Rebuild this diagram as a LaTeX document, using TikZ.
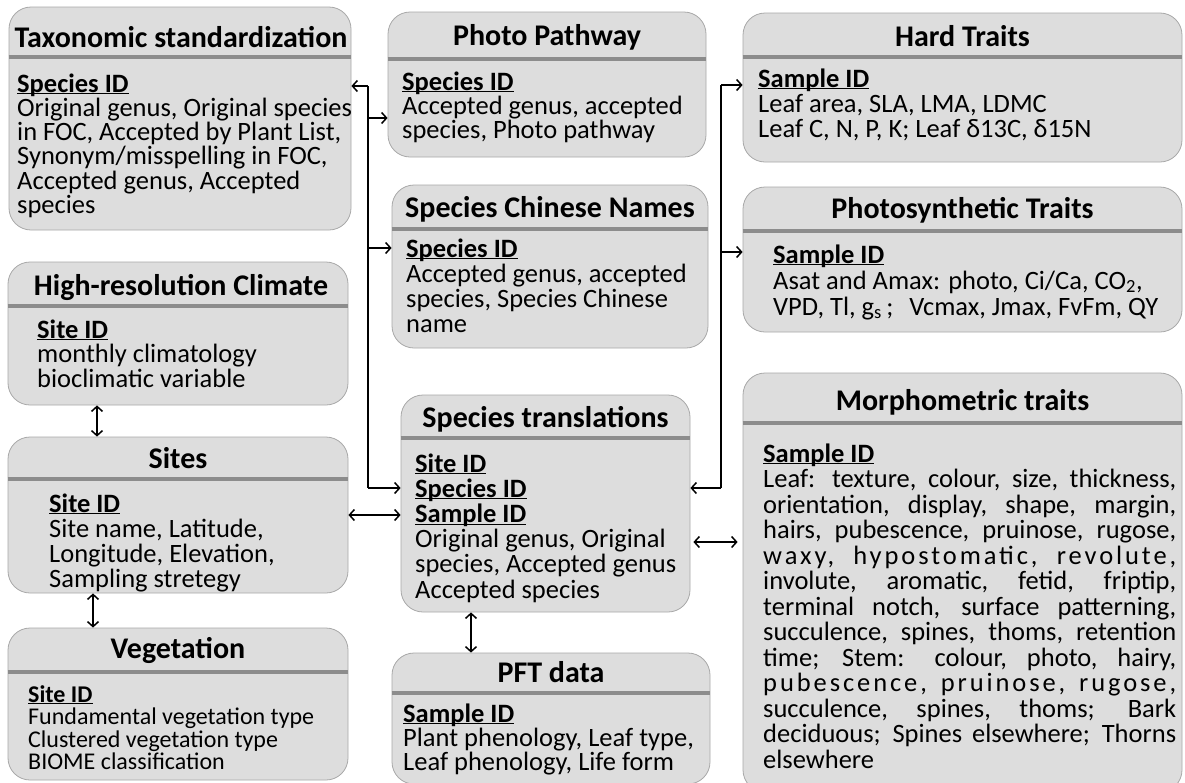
\documentclass[tikz,border=0pt]{standalone}
\usepackage{fontspec}
\setmainfont{Carlito}
\usetikzlibrary{arrows.meta}

\definecolor{boxfill}{RGB}{221,221,221}
\definecolor{boxedge}{RGB}{168,168,168}
\definecolor{sepgray}{RGB}{140,140,140}

% key field of a table, underlined
\newcommand{\keyid}[1]{\underline{\smash{\textbf{#1}}}}
% list of fields: [font size]{line spacing}{lines}
\newcommand{\fields}[3][26.5]{\parbox[t]{430pt}{\fontsize{#1}{#2}\selectfont\lineskiplimit=-50pt\relax #3}}
% spread line of the morphometric list
\newcommand{\spreadline}[1]{{\addfontfeature{LetterSpace=11}\makebox[413pt][s]{#1}}}

\begin{document}
\begin{tikzpicture}[x=1pt, y=-1pt,
    tablebox/.style={draw=boxedge, fill=boxfill, rounded corners=22pt, line width=0.8pt, inner sep=0pt},
    divider/.style={sepgray, line width=4pt},
    title/.style={anchor=base, inner sep=0pt, font=\fontsize{30}{30}\selectfont\bfseries},
    body/.style={anchor=base west, inner sep=0pt},
    link/.style={-{Straight Barb[length=5pt,width=11pt]}, line width=1.5pt},
    twoway/.style={{Straight Barb[length=5pt,width=11pt]}-{Straight Barb[length=5pt,width=11pt]}, line width=1.5pt}]
    \useasboundingbox (0,0) rectangle (1185,782);

    % tables
    \node[tablebox, minimum width=342, minimum height=223] (tax) at (180,118.5) {};
    \node[tablebox, minimum width=318, minimum height=145] (photo) at (547,84.5) {};
    \node[tablebox, minimum width=316, minimum height=163] (chin) at (550,266.5) {};
    \node[tablebox, minimum width=439, minimum height=149] (hard) at (962.5,87.5) {};
    \node[tablebox, minimum width=439, minimum height=145] (psyn) at (962.5,259.5) {};
    \node[tablebox, minimum width=340, minimum height=143] (clim) at (178,333.5) {};
    \node[tablebox, minimum width=340, minimum height=156] (sites) at (178,515) {};
    \node[tablebox, minimum width=340, minimum height=152] (veg) at (178,704) {};
    \node[tablebox, minimum width=289, minimum height=217] (trans) at (545.5,503.5) {};
    \node[tablebox, minimum width=318, minimum height=131] (pft) at (551,718.5) {};
    \node[tablebox, minimum width=439, minimum height=419] (morph) at (962.5,582.5) {};

    \draw[divider] (tax.west |- 0,57) -- (tax.east |- 0,57);
    \draw[divider] (photo.west |- 0,59) -- (photo.east |- 0,59);
    \draw[divider] (chin.west |- 0,229) -- (chin.east |- 0,229);
    \draw[divider] (hard.west |- 0,57) -- (hard.east |- 0,57);
    \draw[divider] (psyn.west |- 0,231) -- (psyn.east |- 0,231);
    \draw[divider] (clim.west |- 0,306) -- (clim.east |- 0,306);
    \draw[divider] (sites.west |- 0,479) -- (sites.east |- 0,479);
    \draw[divider] (veg.west |- 0,672) -- (veg.east |- 0,672);
    \draw[divider] (trans.west |- 0,438) -- (trans.east |- 0,438);
    \draw[divider] (pft.west |- 0,693) -- (pft.east |- 0,693);
    \draw[divider] (morph.west |- 0,423) -- (morph.east |- 0,423);

    \node[title] (taxT) at (181,47) {Taxonomic standardization};
    \node[title] (photoT) at (547,45) {Photo Pathway};
    \node[title] (chinT) at (550,217) {Species Chinese Names};
    \node[title] (hardT) at (962.5,46) {Hard Traits};
    \node[title] (psynT) at (962.5,218) {Photosynthetic Traits};
    \node[title] (climT) at (181,295) {High-resolution Climate};
    \node[title] (sitesT) at (178,468) {Sites};
    \node[title] (vegT) at (178,658) {Vegetation};
    \node[title] (transT) at (545.5,427) {Species translations};
    \node[title] (pftT) at (551,682) {PFT data};
    \node[title] (morphT) at (962.5,410) {Morphometric traits};

    \node[body] (taxB) at (17,92) {\fields{24.3}{\keyid{Species ID}\\ Original genus, Original species\\ in FOC, Accepted by Plant List,\\ Synonym/misspelling in FOC,\\ Accepted genus, Accepted\\ species}};
    \node[body] (photoB) at (402,90) {\fields{24}{\keyid{Species ID}\\ Accepted genus, accepted\\ species, Photo pathway}};
    \node[body] (chinB) at (406,257) {\fields{25.3}{\keyid{Species ID}\\ Accepted genus, accepted\\ species, Species Chinese\\ name}};
    \node[body] (hardB) at (758,87) {\fields{25}{\keyid{Sample ID}\\ Leaf area, SLA, LMA, LDMC\\ Leaf C, N, P, K; Leaf δ13C, δ15N}};
    \node[body] (psynB) at (773,263) {\fields{26}{\keyid{Sample ID}\\ Asat and Amax: photo, Ci/Ca, CO\textsubscript{2},\\ VPD, Tl, g\textsubscript{s}\,;\hspace{0.6em}Vcmax, Jmax, FvFm, QY}};
    \node[body] (climB) at (37,338) {\fields{24.5}{\keyid{Site ID}\\ monthly climatology\\ bioclimatic variable}};
    \node[body] (sitesB) at (49,512) {\fields{25}{\keyid{Site ID}\\ Site name, Latitude,\\ Longitude, Elevation,\\ Sampling stretegy}};
    \node[body] (vegB) at (28,702) {\fields[24]{22.5}{\keyid{Site ID}\\ Fundamental vegetation type\\ Clustered vegetation type\\ BIOME classification}};
    \node[body] (transB) at (415,472) {\fields{25.2}{\keyid{Site ID}\\ \keyid{Species ID}\\ \keyid{Sample ID}\\ Original genus, Original\\ species, Accepted genus\\ Accepted species}};
    \node[body] (pftB) at (403,722) {\fields{24}{\keyid{Sample ID}\\ Plant phenology, Leaf type,\\ Leaf phenology, Life form}};
    \node[body] (morphB) at (763,462) {\fields{25.5}{\keyid{Sample ID}\\
        \makebox[413pt][s]{Leaf: texture, colour, size, thickness,}\\
        \makebox[413pt][s]{orientation, display, shape, margin,}\\
        \makebox[413pt][s]{hairs, pubescence, pruinose, rugose,}\\
        \spreadline{waxy, hypostomatic, revolute,}\\
        \makebox[413pt][s]{involute, aromatic, fetid, friptip,}\\
        \makebox[413pt][s]{terminal notch, surface patterning,}\\
        \makebox[413pt][s]{succulence, spines, thoms, retention}\\
        \makebox[413pt][s]{time; Stem: colour, photo, hairy,}\\
        \spreadline{pubescence, pruinose, rugose,}\\
        \makebox[413pt][s]{succulence, spines, thoms; Bark}\\
        \makebox[413pt][s]{deciduous; Spines elsewhere; Thorns}\\
        elsewhere}};

    % species ID links
    \coordinate (l1) at (368,86);
    \coordinate (l2) at (368,118);
    \coordinate (l3) at (368,248);
    \coordinate (l4) at (368,488);
    \draw[line width=1.5pt] (l1) -- (l4);
    \draw[link] (l1) -- (l1 -| tax.east);
    \draw[link] (l2) -- (l2 -| photo.west);
    \draw[link] (l3) -- (l3 -| chin.west);
    \draw[link] (l4) -- (l4 -| trans.west);

    % sample ID links
    \coordinate (r1) at (721,85);
    \coordinate (r2) at (721,252);
    \coordinate (r3) at (721,488);
    \draw[line width=1.5pt] (r1) -- (r3);
    \draw[link] (r1) -- (r1 -| hard.west);
    \draw[link] (r2) -- (r2 -| psyn.west);
    \draw[link] (r3) -- (r3 -| trans.east);

    % site ID links
    \draw[twoway] (clim.south -| 97,0) -- (sites.north -| 97,0);
    \draw[twoway] (sites.south -| 93,0) -- (veg.north -| 93,0);
    \draw[twoway] (sites.east) -- (sites.east -| trans.west);
    \draw[twoway, shorten <=3pt, shorten >=5pt] (trans.east |- 0,542) -- (morph.west |- 0,542);
    \draw[twoway] (trans.south -| 471,0) -- (pft.north -| 471,0);
\end{tikzpicture}
\end{document}
